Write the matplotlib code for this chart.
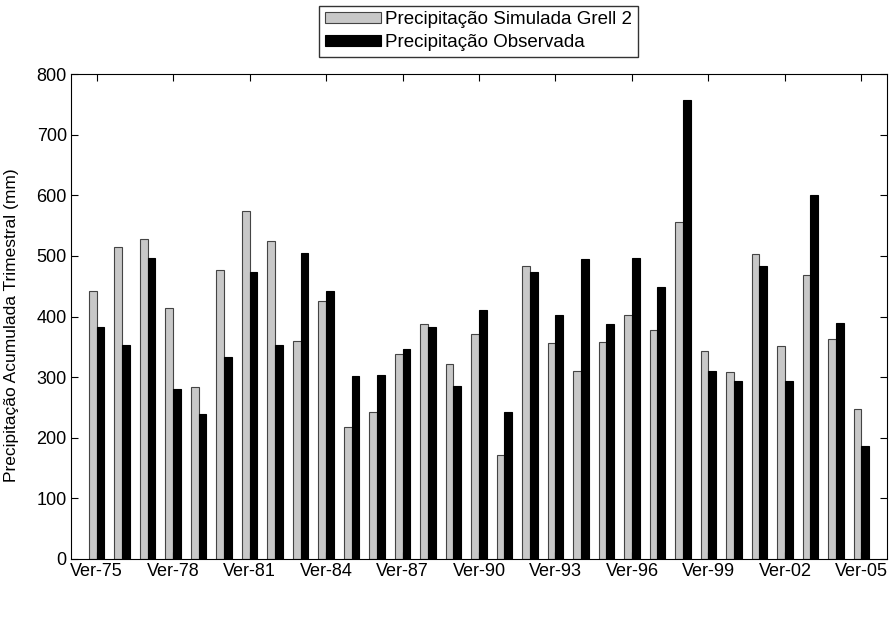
import numpy as np
from matplotlib import pyplot as plt

# Summer (Ver) seasons 1975-2005
years = np.arange(1975, 2006)
simulada = [442, 514, 528, 414, 283, 476, 574, 525, 360, 425,
            217, 242, 339, 387, 321, 372, 172, 484, 356, 311,
            358, 402, 378, 556, 343, 308, 503, 352, 468, 363, 248]
observada = [383, 353, 496, 281, 240, 334, 474, 353, 505, 442,
             302, 304, 347, 382, 285, 411, 242, 474, 402, 495,
             388, 496, 449, 758, 311, 293, 483, 294, 600, 390, 187]
tick_years = years[::3]
tick_labels = [f"Ver-{y % 100:02d}" for y in tick_years]


def main():
    plt.rcParams['font.family'] = ['Liberation Sans', 'DejaVu Sans']

    fig = plt.figure(figsize=(8.9, 6.39), dpi=100)
    ax = fig.add_axes([0.0798, 0.1252, 0.9168, 0.7588])

    w = 0.3
    b1 = ax.bar(years - w / 2, simulada, width=w, color="#c8c8c8",
                edgecolor="#444444", linewidth=0.8, label="Precipitação Simulada Grell 2")
    b2 = ax.bar(years + w / 2, observada, width=w, color="black",
                edgecolor="black", linewidth=0.8, label="Precipitação Observada")

    ax.set_xlim(1974, 2006)
    ax.set_ylim(0, 800)
    ax.set_xticks(tick_years)
    ax.set_xticklabels(tick_labels)
    ax.set_yticks(np.arange(0, 801, 100))
    ax.tick_params(direction="in", top=True, right=True, length=5,
                   labelsize=13, width=0.8, pad=3)
    for s in ax.spines.values():
        s.set_linewidth(0.8)
    ax.set_ylabel("Precipitação Acumulada Trimestral (mm)", fontsize=12.5)
    ax.yaxis.set_label_coords(-0.064, 0.482)

    fig.legend(handles=[b1, b2], loc="upper center", bbox_to_anchor=(0.5377, 0.991),
               fontsize=13.5, frameon=True, fancybox=False, edgecolor="black",
               handlelength=3.0, handleheight=0.5, borderpad=0.3, labelspacing=0.3,
               handletextpad=0.2, borderaxespad=0)

    fig.savefig("out.png", dpi=100)


if __name__ == "__main__":
    main()
